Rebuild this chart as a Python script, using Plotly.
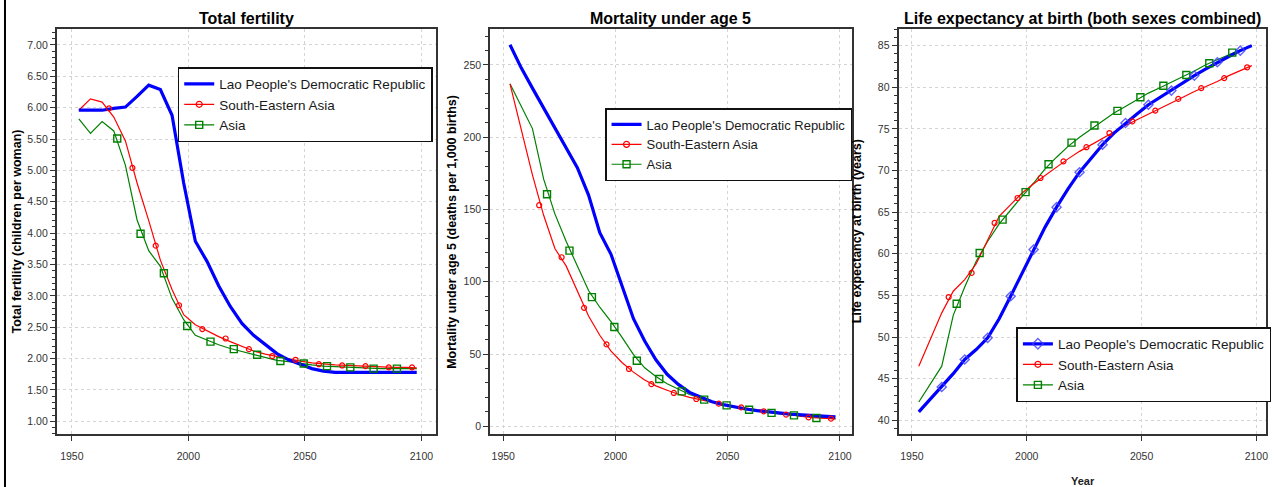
import plotly.graph_objects as go

W, H = 1274, 487

# ---------------- data ----------------
years = list(range(1953, 2099, 5))  # mid-points of 5-year periods

# Total fertility (children per woman)
lao_tfr = [5.96, 5.96, 5.96, 5.99, 6.01, 6.18, 6.36, 6.29, 5.88, 4.80,
           3.87, 3.55, 3.16, 2.83, 2.56, 2.37, 2.22, 2.08, 1.98, 1.91,
           1.84, 1.80, 1.78, 1.78, 1.78, 1.78, 1.78, 1.78, 1.78, 1.78]
sea_tfr = [5.96, 6.14, 6.09, 5.85, 5.47, 4.80, 4.20, 3.57, 3.10, 2.70,
           2.54, 2.44, 2.35, 2.27, 2.19, 2.12, 2.07, 2.03, 1.99, 1.96,
           1.93, 1.91, 1.90, 1.89, 1.88, 1.87, 1.87, 1.86, 1.86, 1.85]
asia_tfr = [5.82, 5.59, 5.78, 5.63, 5.08, 4.21, 3.72, 3.47, 2.96, 2.62,
            2.37, 2.29, 2.22, 2.16, 2.11, 2.07, 2.02, 1.97, 1.95, 1.92,
            1.90, 1.88, 1.87, 1.86, 1.85, 1.84, 1.84, 1.84, 1.84, 1.84]

# Mortality under age 5 (deaths per 1,000 births)
lao_u5 = [264, 248, 234, 220, 207, 193, 179, 160, 134, 119,
          97, 74.5, 59, 46, 36, 29, 23.5, 20, 17, 15,
          13.3, 12, 10.9, 10, 9.2, 8.5, 7.9, 7.4, 7.0, 6.6]
sea_u5 = [237, 205, 174, 146, 123, 111, 93.5, 76.3, 63, 52,
          44, 37.5, 32, 28, 25, 22.2, 20, 18.2, 16.5, 15,
          13.8, 12.6, 11.2, 9.9, 8.8, 7.7, 6.8, 6.0, 5.6, 5.1]
asia_u5 = [237, 222, 206, 171, 147, 128, 111, 94, 82.4, 72.5,
           61.4, 49.6, 40.5, 34.5, 29.5, 25.5, 22, 19.3, 17, 15,
           13.4, 12, 10.7, 9.6, 8.6, 7.8, 7.0, 6.2, 5.6, 5.1]

# Life expectancy at birth (years)
lao_e0 = [41.0, 42.5, 44.0, 45.6, 47.3, 48.5, 49.9, 52.2, 54.9, 57.6,
          60.5, 63.2, 65.6, 67.8, 69.8, 71.5, 73.1, 74.5, 75.7, 76.8,
          77.9, 78.8, 79.6, 80.5, 81.4, 82.2, 83.0, 83.7, 84.4, 85.0]
sea_e0 = [46.5, 49.7, 52.9, 55.5, 56.9, 58.8, 61.7, 64.5, 65.9, 67.3,
          68.4, 69.4, 70.5, 71.4, 72.3, 73.1, 73.9, 74.7, 75.4, 76.1,
          76.8, 77.4, 78.1, 78.8, 79.5, 80.1, 80.7, 81.4, 82.0, 82.6]
asia_e0 = [42.2, 44.3, 46.5, 52.6, 56.0, 59.1, 61.5, 63.6, 65.3, 66.9,
           68.5, 70.2, 71.6, 72.9, 74.0, 75.0, 75.9, 76.9, 77.7, 78.55,
           79.3, 79.95, 80.6, 81.3, 81.95, 82.7, 83.3, 83.95, 84.5, 85.05]

# marker positions (as drawn in the original)
sea_marker_years = list(range(1966, 2097, 10))
asia_marker_years = [1969.5, 1979.5, 1989.5, 1999.5, 2009.5, 2019.5, 2029.5,
                     2039.5, 2049.5, 2059.5, 2069.5, 2079.5, 2089.5]
sea_tfr_markers = [5.99, 5.04, 3.80, 2.85, 2.47, 2.32, 2.15, 2.04, 1.98, 1.91, 1.89, 1.88, 1.86, 1.86]
asia_tfr_markers = [5.51, 3.99, 3.36, 2.52, 2.27, 2.15, 2.06, 1.96, 1.92, 1.88, 1.86, 1.84, 1.84]
sea_u5_markers = [153, 117, 82, 56.7, 39.7, 29.2, 23.1, 18.9, 15.7, 13.1, 10.4, 8.1, 6.2, 5.3]
asia_u5_markers = [160.6, 121.6, 89.4, 68.7, 45.4, 32.8, 24.2, 18.5, 14.5, 11.5, 9.3, 7.6, 5.8]
sea_e0_markers = [54.8, 57.7, 63.7, 66.7, 69.1, 71.1, 72.8, 74.5, 75.9, 77.2, 78.6, 79.9, 81.1, 82.4]
asia_e0_markers = [54.0, 60.1, 64.1, 67.4, 70.75, 73.35, 75.4, 77.16, 78.8, 80.19, 81.48, 82.88, 84.16]

series_names = ["Lao People's Democratic Republic", "South-Eastern Asia", "Asia"]
panel_titles = ["Total fertility", "Mortality under age 5",
                "Life expectancy at birth (both sexes combined)"]
y_titles = ["Total fertility (children per woman)",
            "Mortality under age 5 (deaths per 1,000 births)",
            "Life expectancy at birth (years)"]
x_ticks = [1950, 2000, 2050, 2100]
y_ticks_tfr = [1.0, 1.5, 2.0, 2.5, 3.0, 3.5, 4.0, 4.5, 5.0, 5.5, 6.0, 6.5, 7.0]
y_ticks_u5 = [0, 50, 100, 150, 200, 250]
y_ticks_e0 = [40, 45, 50, 55, 60, 65, 70, 75, 80, 85]

# ---------------- styling ----------------
FONT = "Liberation Sans, Arial, sans-serif"
BLUE, RED, GREEN = "#0000FF", "#FF0000", "#008000"
LAO_MARKER = "rgba(60,60,255,0.8)"

# pixel geometry
plot_x = [(57, 437), (491, 853), (900, 1268)]
plot_top, plot_bot = 29, 434
x_ranges = [[1943.6, 2106.4], [1944.2, 2105.2], [1944.2, 2104.2]]
y_ranges = [[0.797, 7.255], [-5.3, 274.9], [38.35, 87.0]]
y_minor = [0.1, 10, 1]
y_fmt = [".2f", "d", "d"]
y_tickvals = [y_ticks_tfr, y_ticks_u5, y_ticks_e0]
legend_pos = [(178, 67), (606, 108), (1018, 327)]
legend_font = [13.5, 13, 13.5]
ytitle_x = [17, 452, 858]

panels = [
    (lao_tfr, sea_tfr, asia_tfr, sea_tfr_markers, asia_tfr_markers, False),
    (lao_u5, sea_u5, asia_u5, sea_u5_markers, asia_u5_markers, False),
    (lao_e0, sea_e0, asia_e0, sea_e0_markers, asia_e0_markers, True),
]

fig = go.Figure()
annotations = []
layout = {}

for i, (lao, sea, asia, sea_m, asia_m, lao_markers) in enumerate(panels):
    n = "" if i == 0 else str(i + 1)
    xa, ya = "x" + n, "y" + n
    leg = "legend" + n

    # lines
    fig.add_trace(go.Scatter(x=years, y=asia, mode="lines", xaxis=xa, yaxis=ya,
                             line=dict(color=GREEN, width=1.2), showlegend=False, hoverinfo="skip"))
    fig.add_trace(go.Scatter(x=years, y=sea, mode="lines", xaxis=xa, yaxis=ya,
                             line=dict(color=RED, width=1.2), showlegend=False, hoverinfo="skip"))
    fig.add_trace(go.Scatter(x=years, y=lao, mode="lines", xaxis=xa, yaxis=ya,
                             line=dict(color=BLUE, width=3.2), showlegend=False, hoverinfo="skip"))
    # markers
    fig.add_trace(go.Scatter(x=sea_marker_years, y=sea_m, mode="markers", xaxis=xa, yaxis=ya,
                             marker=dict(symbol="circle-open", size=5, color=RED, line=dict(width=1.2)),
                             showlegend=False, hoverinfo="skip"))
    fig.add_trace(go.Scatter(x=asia_marker_years, y=asia_m, mode="markers", xaxis=xa, yaxis=ya,
                             marker=dict(symbol="square-open", size=7, color=GREEN, line=dict(width=1.4)),
                             showlegend=False, hoverinfo="skip"))
    if lao_markers:
        fig.add_trace(go.Scatter(x=years[2::2], y=lao[2::2], mode="markers", xaxis=xa, yaxis=ya,
                                 marker=dict(symbol="diamond-open", size=7, color=LAO_MARKER,
                                             line=dict(width=1.4)),
                                 showlegend=False, hoverinfo="skip"))

    # legend entries
    lao_mode = "lines+markers" if lao_markers else "lines"
    fig.add_trace(go.Scatter(x=[None], y=[None], mode=lao_mode, name=series_names[0], legend=leg,
                             xaxis=xa, yaxis=ya, legendrank=1,
                             line=dict(color=BLUE, width=3.2),
                             marker=dict(symbol="diamond-open", size=8, color=LAO_MARKER,
                                         line=dict(width=1.4))))
    fig.add_trace(go.Scatter(x=[None], y=[None], mode="lines+markers", name=series_names[1], legend=leg,
                             xaxis=xa, yaxis=ya, legendrank=2,
                             line=dict(color=RED, width=1.2),
                             marker=dict(symbol="circle-open", size=6, color=RED, line=dict(width=1.2))))
    fig.add_trace(go.Scatter(x=[None], y=[None], mode="lines+markers", name=series_names[2], legend=leg,
                             xaxis=xa, yaxis=ya, legendrank=3,
                             line=dict(color=GREEN, width=1.2),
                             marker=dict(symbol="square-open", size=7, color=GREEN, line=dict(width=1.4))))

    x0, x1 = plot_x[i]
    layout["xaxis" + n] = dict(
        domain=[x0 / W, x1 / W], range=x_ranges[i], anchor=ya,
        tickvals=x_ticks, ticks="outside", ticklen=5, tickcolor="#333",
        showline=True, linecolor="#333", linewidth=2, mirror=True,
        showgrid=True, gridcolor="#d4d4d4", griddash="dot", gridwidth=1,
        zeroline=False, ticklabelstandoff=6,
        tickfont=dict(family=FONT, size=10.5, color="#333"),
    )
    layout["yaxis" + n] = dict(
        domain=[1 - plot_bot / H, 1 - plot_top / H], range=y_ranges[i], anchor=xa,
        tickvals=y_tickvals[i], tickformat=y_fmt[i], ticks="outside", ticklen=5, tickcolor="#333",
        minor=dict(dtick=y_minor[i], ticks="outside", ticklen=3, tickcolor="#333", showgrid=False),
        showline=True, linecolor="#333", linewidth=2, mirror=True,
        showgrid=True, gridcolor="#d4d4d4", griddash="dot", gridwidth=1,
        zeroline=False,
        tickfont=dict(family=FONT, size=10.5, color="#333"),
    )
    lx, ly = legend_pos[i]
    layout[leg] = dict(
        x=lx / W, y=1 - ly / H, xanchor="left", yanchor="top",
        bgcolor="white", bordercolor="#111", borderwidth=1.5,
        font=dict(family=FONT, size=legend_font[i], color="#1a1a1a"),
        tracegroupgap=0, traceorder="normal",
    )
    annotations.append(dict(
        text="<b>" + panel_titles[i] + "</b>", x=(x0 + x1) / 2 / W, y=1 - 18.5 / H,
        xref="paper", yref="paper", xanchor="center", yanchor="middle", showarrow=False,
        font=dict(family=FONT, size=16, color="black")))
    annotations.append(dict(
        text="<b>" + y_titles[i] + "</b>", x=ytitle_x[i] / W, y=1 - (plot_top + plot_bot) / 2 / H,
        xref="paper", yref="paper", xanchor="center", yanchor="middle", showarrow=False,
        textangle=-90, font=dict(family=FONT, size=12.5, color="black")))

annotations.append(dict(
    text="<b>Year</b>", x=1085 / W, y=1 - 481 / H, xref="paper", yref="paper",
    xanchor="center", yanchor="middle", showarrow=False,
    font=dict(family=FONT, size=11, color="#222")))

fig.update_layout(
    width=W, height=H, margin=dict(l=0, r=0, t=0, b=0),
    paper_bgcolor="white", plot_bgcolor="white",
    annotations=annotations,
    shapes=[dict(type="line", xref="paper", yref="paper", x0=5 / W, x1=5 / W, y0=0, y1=1,
                 line=dict(color="black", width=2))],
    **layout,
)

fig.write_html("out.html")
